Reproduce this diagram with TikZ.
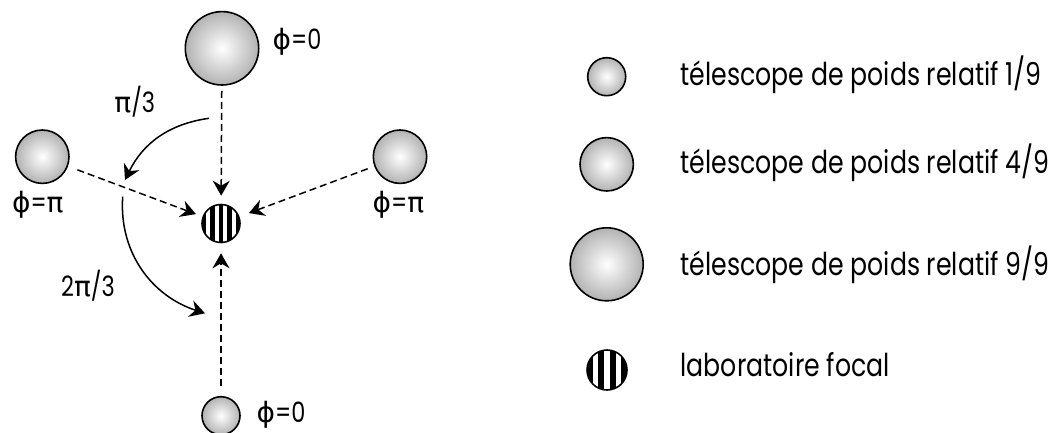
\documentclass[tikz,border=0pt]{standalone}
\usepackage{fontspec}
\setmainfont{Poppins}[FakeStretch=0.80]
\newfontfamily\greekfont{DejaVu Sans}
\usetikzlibrary{arrows.meta}
\newcommand{\gk}[1]{{\greekfont #1}}
\begin{document}
\begin{tikzpicture}[x=1pt,y=1pt,
  tel/.style={circle, draw=black, line width=1.6pt, minimum size=#1, inner sep=0pt,
    shading=radial, inner color=white, outer color=black!30},
  labnine/.style={circle, draw=black, line width=1.6pt, minimum size=38pt, inner sep=0pt, fill=white,
    path picture={\foreach \k in {0,2,4,6,8}
      \fill[black] ([xshift=\k*4.222pt]path picture bounding box.south west) rectangle ++(4.222,50);}},
  labseven/.style={circle, draw=black, line width=1.6pt, minimum size=40pt, inner sep=0pt, fill=white,
    path picture={\foreach \k in {0,2,4,6}
      \fill[black] ([xshift=\k*5.714pt]path picture bounding box.south west) rectangle ++(5.714,50);}},
  beam/.style={line width=1.5pt, dash pattern=on 7pt off 4pt, -{Stealth[length=15pt, width=17pt, inset=5pt]}},
  turn/.style={line width=1.5pt, -{Stealth[length=15pt, width=17pt, inset=5pt]}},
  lbl/.style={font=\fontsize{28}{31}\selectfont, inner sep=0pt},
  leg/.style={font=\fontsize{31.5}{34}\selectfont, inner sep=0pt, anchor=base west}]
\useasboundingbox (0,0) rectangle (1057,432);
% telescopes
\node[tel=73.4pt] (T) at (222,383.7) {};
\node[tel=53.4pt] (L) at (42.3,275.3) {};
\node[tel=53.4pt] (R) at (400,275.3) {};
\node[tel=38pt] (B) at (221,16.3) {};
\node[labnine] (F) at (221,208.5) {};
% beams
\draw[beam, shorten <=5pt, shorten >=8pt] (T) -- (F);
\draw[beam, shorten <=10pt, shorten >=7pt] (L) -- (F);
\draw[beam, shorten <=7pt, shorten >=10pt] (R) -- (F);
\draw[beam, shorten <=10pt, shorten >=10pt] (B) -- (F);
% phase turns
\coordinate (c1s) at (209,313.7);
\coordinate (c1e) at (125,252);
\coordinate (c2s) at (122.7,235.3);
\coordinate (c2e) at (205,118.7);
\draw[turn] (c1s) to[out=188, in=64] (c1e);
\draw[turn] (c2s) to[out=266, in=162] (c2e);
% labels
\node[lbl] (pT) at (297,390.3) {\gk{ϕ}=0};
\node[lbl] (pL) at (37.8,227) {\gk{ϕ}=\gk{π}};
\node[lbl] (pR) at (398.5,227) {\gk{ϕ}=\gk{π}};
\node[lbl] (pB) at (281,17) {\gk{ϕ}=0};
\node[lbl] (a1) at (134.8,330.3) {\gk{π}/3};
\node[lbl] (a2) at (88,146) {2\gk{π}/3};
% legend
\node[tel=38pt] (l1) at (606.7,355.3) {};
\node[tel=53.4pt] (l4) at (606.7,267.7) {};
\node[tel=73pt] (l9) at (606.7,167.7) {};
\node[labseven] (lf) at (607,62) {};
\node[leg] (t1) at (680.5,346.3) {télescope de poids relatif 1/9};
\node[leg] (t4) at (680.5,258.7) {télescope de poids relatif 4/9};
\node[leg] (t9) at (680.5,156.3) {télescope de poids relatif 9/9};
\node[leg] (tf) at (680.5,55.3) {laboratoire focal};
\end{tikzpicture}
\end{document}
